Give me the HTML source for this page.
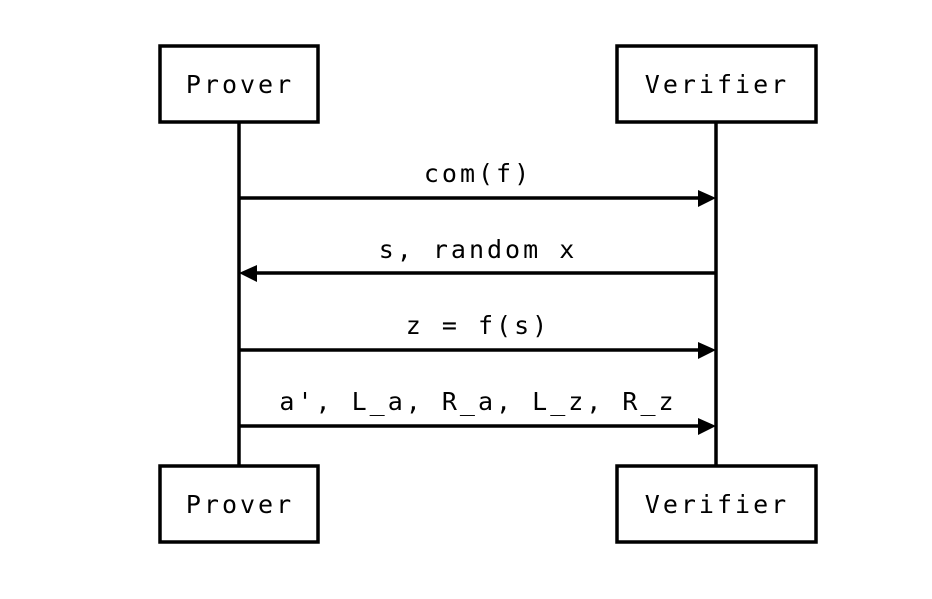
<!DOCTYPE html>
<html><head><style>
body{margin:0;background:#fff}
text{font-family:"DejaVu Sans Mono","Liberation Mono",monospace;font-size:25px;letter-spacing:3px;fill:#000}
</style></head><body>
<svg width="932" height="594" viewBox="0 0 932 594" xmlns="http://www.w3.org/2000/svg">
<g stroke="#000" stroke-width="3.5" fill="none">
<line x1="239" y1="122" x2="239" y2="465"/>
<line x1="716" y1="122" x2="716" y2="465"/>
<rect x="160" y="46" width="158" height="76" fill="#fff"/>
<rect x="617" y="46" width="199" height="76" fill="#fff"/>
<rect x="160" y="466" width="158" height="76" fill="#fff"/>
<rect x="617" y="466" width="199" height="76" fill="#fff"/>
<line x1="239" y1="198" x2="700" y2="198"/>
<line x1="256" y1="273" x2="716" y2="273"/>
<line x1="239" y1="350" x2="700" y2="350"/>
<line x1="239" y1="426" x2="700" y2="426"/>
</g>
<g fill="#000">
<polygon points="698,190 716,198 698,207"/>
<polygon points="257,265 239,273 257,282"/>
<polygon points="698,342 716,350 698,359"/>
<polygon points="698,418 716,426 698,435"/>
</g>
<g text-anchor="middle">
<text x="240" y="93">Prover</text>
<text x="717" y="93">Verifier</text>
<text x="240" y="513">Prover</text>
<text x="717" y="513">Verifier</text>
<text x="478" y="182">com(f)</text>
<text x="478" y="258">s, random x</text>
<text x="478" y="334">z = f(s)</text>
<text x="478" y="410">a', L_a, R_a, L_z, R_z</text>
</g>
</svg>
</body></html>
